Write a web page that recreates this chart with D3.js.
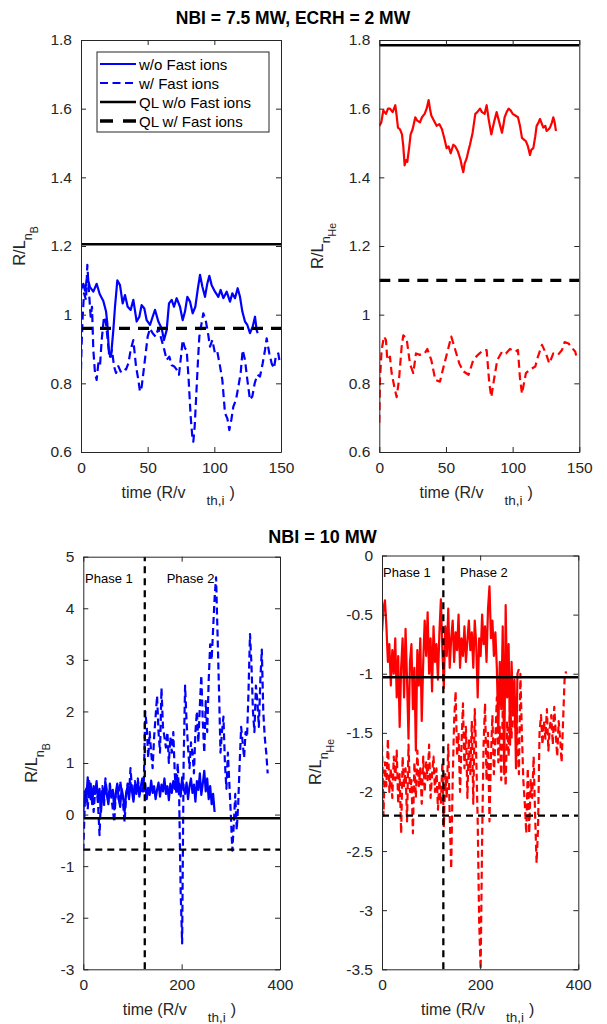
<!DOCTYPE html>
<html>
<head>
<meta charset="utf-8">
<script src="https://cdn.jsdelivr.net/npm/d3@7"></script>
<style>
  body { margin: 0; background: #fff; }
  svg { display: block; }
  text { font-family: 'Liberation Sans', Arial, Helvetica, sans-serif; }
</style>
</head>
<body>
<svg id="fig" width="607" height="1024"></svg>
<script>
// ---- data ----

// NBI = 7.5 MW, ECRH = 2 MW : [time, R/L]
const nB75NoFast = [[0,1.072],[1.75,1.09],[3,1.07],[4.75,1.11],[6.75,1.08],[9.25,1.067],[11.75,1.09],[14,1.06],
  [16.75,1.04],[18.75,1.01],[19.75,0.975],[21,0.887],[22.5,0.878],[24.25,0.955],[25.5,1.023],[27.25,1.10],
  [29.25,1.086],[31.25,1.033],[33,1.057],[35,1.023],[37.25,1.014],[39.25,1.043],[41.75,0.98],[43.75,0.994],
  [45.5,1.028],[47.5,1.018],[49.25,0.984],[51.75,0.97],[53.75,0.994],[55.5,1.014],[58,0.98],[60.5,0.96],
  [62.25,0.926],[64.25,0.955],[66,1.033],[68,1.043],[69.75,1.023],[71.75,1.048],[74.25,1.023],[76.25,0.984],
  [78,1.009],[79.75,1.052],[81.75,1.038],[83.75,1.004],[85.75,1.023],[87.5,1.072],[89.25,1.116],[91,1.082],
  [93,1.052],[94.75,1.091],[96.25,1.113],[98,1.086],[100.5,1.067],[103,1.052],[104.75,1.072],[106.75,1.048],
  [109.25,1.067],[111.75,1.038],[113.5,1.062],[115.5,1.048],[117.5,1.077],[119.25,1.052],[121,1.009],
  [123,0.98],[124.75,0.97],[126.75,0.946],[128.75,0.965],[130.5,0.994],[131.75,0.955],[132.5,0.946]]

const nB75Fast = [[0,0.84],[0.5,0.917],[1.25,0.994],[2.25,1.062],[3.75,1.043],[4.75,1.145],[5.75,1.08],
  [7.25,0.994],[8.25,1.023],[9.25,0.897],[10.5,0.83],[11.75,0.81],[13,0.858],[14.25,0.85],[15.5,0.926],
  [17.25,0.994],[18.75,0.975],[20.5,0.907],[21.75,0.878],[23.25,0.897],[24.75,0.85],[26.25,0.83],[28,0.85],
  [29.75,0.834],[31.75,0.844],[33.75,0.84],[35.5,0.858],[37.25,0.897],[39.25,0.926],[41.25,0.85],[43,0.81],
  [44.25,0.776],[45.5,0.79],[46.75,0.83],[48.5,0.887],[50,0.936],[51.75,0.96],[53.75,0.946],[56,0.936],
  [58,0.96],[60.5,0.926],[62.5,0.897],[64.25,0.868],[66.25,0.878],[68,0.853],[69.75,0.85],[71.75,0.84],
  [73.5,0.825],[75,0.878],[76.25,0.926],[78,0.902],[79.25,0.897],[80.75,0.81],[82.25,0.703],[83.5,0.645],
  [84.25,0.63],[85.25,0.674],[86.5,0.77],[87.75,0.868],[88.75,0.936],[90,0.965],[91.75,1.004],[93.5,0.984],
  [95.25,0.946],[96.75,0.907],[98.5,0.926],[100.5,0.887],[102.25,0.892],[104.25,0.85],[106,0.81],[108,0.713],
  [109.75,0.698],[111.25,0.664],[112.75,0.694],[114.25,0.732],[116.25,0.752],[118,0.79],[119.75,0.83],
  [121.25,0.897],[123,0.868],[124.75,0.81],[126.75,0.752],[128.5,0.762],[130.25,0.80],[132.25,0.825],
  [134.25,0.82],[136.25,0.858],[138,0.897],[139.25,0.931],[141.25,0.887],[143,0.858],[144.75,0.844],
  [146.25,0.882],[148,0.887],[148.75,0.868]]

const nHe75NoFast = [[0,1.55],[1.5,1.56],[3,1.595],[5,1.585],[6.5,1.60],[8,1.60],[10,1.59],[12,1.61],
  [13,1.58],[14,1.545],[15.5,1.54],[17,1.525],[18,1.49],[19,1.435],[20,1.45],[21,1.445],[22.5,1.49],
  [23.5,1.525],[25,1.54],[27,1.575],[28.5,1.565],[30.5,1.56],[32,1.575],[34,1.585],[35.5,1.60],[37,1.625],
  [38,1.60],[39,1.58],[41,1.565],[43,1.55],[45,1.555],[47,1.54],[49,1.51],[50.5,1.485],[52,1.49],
  [53.5,1.47],[55.5,1.495],[57,1.49],[59,1.475],[61,1.45],[62,1.43],[63,1.415],[64,1.44],[65.5,1.455],
  [67,1.48],[68,1.495],[70,1.53],[72,1.585],[73.5,1.59],[75.5,1.60],[77,1.59],[79,1.585],[80.5,1.61],
  [82,1.57],[84,1.525],[86,1.56],[88,1.59],[90,1.56],[92,1.53],[93,1.55],[94,1.575],[95.5,1.59],[97,1.60],
  [98.5,1.595],[100,1.585],[102,1.58],[104,1.575],[105.5,1.55],[107,1.515],[108.5,1.51],[110,1.505],
  [111.5,1.49],[113,1.465],[114,1.48],[115.5,1.485],[117,1.52],[118,1.55],[119.5,1.56],[120.5,1.57],
  [122,1.555],[123,1.545],[124.5,1.55],[125.5,1.535],[127,1.54],[128,1.545],[129.5,1.56],[130.5,1.575],
  [131.5,1.56],[132.5,1.535]]

const nHe75Fast = [[0,0.685],[0.5,0.81],[1.75,0.897],[3.5,0.936],[5,0.926],[6,0.868],[8,0.878],[9.25,0.83],
  [11.25,0.79],[13,0.76],[14.75,0.81],[16.75,0.906],[18,0.94],[20.5,0.93],[23,0.857],[25.5,0.83],
  [27.5,0.887],[30.5,0.883],[34,0.887],[36,0.90],[39,0.868],[42,0.81],[45.5,0.805],[48,0.845],[52,0.906],
  [54,0.936],[57,0.897],[60,0.858],[63,0.835],[67,0.825],[70.5,0.868],[74,0.883],[78,0.897],[80.5,0.897],
  [82.5,0.80],[84,0.76],[86,0.81],[88.5,0.868],[92,0.892],[95,0.887],[98,0.90],[102,0.892],[104,0.897],
  [105.5,0.815],[107,0.77],[110,0.83],[113,0.84],[117,0.849],[119,0.878],[122,0.912],[125,0.887],
  [127.5,0.858],[130.5,0.887],[134,0.883],[137,0.897],[139,0.92],[142,0.916],[144,0.906],[147,0.892],
  [148,0.873]]

// quasi-linear levels [w/o fast ions, w/ fast ions]
const qlNB75 = [1.205, 0.96]
const qlHe75 = [1.785, 1.10]

// NBI = 10 MW : sampled every dt10 (R/v_th,i) from t = 0
const dt10 = 3
const nB10NoFast = [
  0.05, 0.45, 0.30, 0.72, 0.35, 0.60, 0.20, 0.55, 0.40, 0.65,
  0.25, 0.50, 0.05, 0.45, 0.30, 0.62, 0.40, 0.20, 0.55, 0.35,
  0.48, 0.10, 0.42, 0.60, 0.30, 0.15, 0.50, 0.35, 0.05, 0.40,
  0.55, 0.30, 0.62, 0.45, 0.25, 0.58, 0.40, 0.65, 0.35, 0.55,
  0.70, 0.45, 0.60, 0.30, 0.52, 0.38, 0.66, 0.42, 0.55, 0.30,
  0.48, 0.62, 0.35, 0.58, 0.45, 0.70, 0.40, 0.55, 0.28, 0.60,
  0.42, 0.65, 0.50, 0.78, 0.45, 0.60, 0.35, 0.72, 0.50, 0.40,
  0.62, 0.30, 0.55, 0.70, 0.42, 0.58, 0.25, 0.65, 0.48, 0.80,
  0.38, 0.60, 0.85, 0.45, 0.70, 0.30, 0.55, 0.20, 0.40, 0.05]
const nB10Fast = [
  -0.70, 0.20, 0.55, 0.10, 0.65, 0.30, 0.50, 0.05, 0.45, 0.60,
  0.20, -0.40, 0.35, 0.55, 0.15, 0.70, 0.40, 0.25, 0.60, 0.35,
  0.10, -0.15, 0.40, 0.55, 0.30, 0.65, 0.45, 0.20, -0.15, 0.35,
  0.60, 0.40, 0.90, 0.50, 0.30, 0.65, 0.45, 0.70, 0.35, 0.55,
  0.45, 0.60, 2.00, 1.70, 1.10, 1.60, 1.20, 0.90, 1.50, 1.90,
  2.30, 1.60, 1.20, 2.45, 1.70, 1.50, 1.30, 1.60, 1.00, 1.50,
  1.20, 1.60, 0.80, 0.40, 1.00, 0.30, -1.50, -2.50, 1.00, 2.50,
  1.80, 1.30, 0.90, 1.40, 1.20, 0.80, 1.60, 2.00, 1.40, 2.10,
  2.70, 1.80, 1.20, 2.20, 1.60, 2.60, 3.30, 3.00, 3.60, 4.20,
  4.60, 3.50, 2.40, 1.20, 1.60, 1.90, 1.00, 0.50, 1.20, 0.60,
  0.00, -0.70, -0.20, 0.40, -0.30, 0.20, 1.00, 1.70, 1.40, 1.10,
  1.60, 1.50, 2.40, 3.50, 2.90, 2.00, 1.60, 2.50, 2.20, 1.70,
  2.60, 3.20, 2.00, 1.50, 1.20, 0.80]
const nHe10NoFast = [
  -0.65, -0.45, -0.38, -0.60, -0.90, -0.75, -1.10, -0.80, -1.00, -0.70,
  -1.20, -0.85, -1.45, -0.95, -0.70, -1.20, -0.62, -1.05, -1.55, -0.90,
  -0.75, -1.30, -0.95, -1.65, -0.80, -1.10, -0.70, -1.40, -0.90, -0.55,
  -0.85, -0.48, -1.00, -0.70, -1.15, -0.60, -0.90, -0.75, -1.05, -0.65,
  -0.37, -0.80, -1.12, -0.60, -0.85, -0.45, -0.95, -0.70, -0.55, -0.90,
  -0.65, -0.80, -0.50, -0.95, -0.70, -0.85, -0.60, -0.90, -0.72, -0.55,
  -0.80, -0.65, -0.95, -0.55, -0.75, -1.20, -0.70, -0.85, -0.50, -0.75,
  -0.60, -0.90, -0.45, -0.26, -0.70, -0.55, -0.85, -0.65, -0.95, -1.50,
  -0.90, -1.30, -0.60, -1.85, -0.42, -1.20, -0.75, -1.60, -0.90, -1.30,
  -1.05, -1.80, -1.00, -0.96]
const nHe10Fast = [
  -1.60, -2.20, -1.75, -1.95, -1.55, -2.00, -1.80, -2.05, -1.70, -1.90,
  -1.65, -2.10, -1.85, -2.35, -1.70, -1.95, -1.80, -2.25, -1.60, -2.00,
  -1.90, -2.35, -1.75, -2.05, -1.65, -1.95, -1.80, -2.10, -1.70, -2.00,
  -1.75, -1.90, -1.60, -2.05, -1.85, -1.70, -2.00, -1.80, -2.15, -1.90,
  -2.10, -1.75, -2.30, -1.85, -2.05, -1.60, -2.20, -2.65, -1.90, -1.40,
  -1.15, -1.70, -1.50, -2.00, -1.60, -1.25, -1.80, -1.45, -2.05, -1.55,
  -1.85, -1.40, -2.10, -1.30, -1.70, -2.25, -3.10, -3.50, -2.40, -1.60,
  -1.25, -1.90, -1.50, -2.25, -1.70, -1.35, -1.85, -1.55, -1.20, -1.75,
  -1.45, -1.90, -1.30, -1.65, -1.95, -1.40, -1.70, -1.25, -1.55, -1.10,
  -1.45, -1.20, -1.60, -1.85, -1.00, -1.50, -1.90, -2.10, -2.35, -1.80,
  -2.35, -1.90, -2.05, -1.70, -2.20, -2.60, -2.30, -1.50, -1.35, -1.60,
  -1.40, -1.55, -1.30, -1.65, -1.45, -1.35, -1.60, -1.28, -1.50, -1.70,
  -1.40, -1.55, -1.75, -1.40, -1.05, -0.98]
const qlNB10 = [-0.07, -0.68]
const qlHe10 = [-1.03, -2.2]
const phaseSplit = 125

const legendLabels = ['w/o Fast ions', 'w/ Fast ions', 'QL w/o Fast ions', 'QL w/ Fast ions']
const titles = ['NBI = 7.5 MW, ECRH = 2 MW', 'NBI = 10 MW']
const phaseLabels = ['Phase 1', 'Phase 2']

// ---- drawing ----
const svg = d3.select('#fig')
const axisColor = '#262626'
const blue = '#0000ff', red = '#ff0000'

function sampled(vals) {
  return vals.map((v, i) => [i * dt10, v])
}

function yLabel(x, yc, sub) {
  let t = svg.append('text')
    .attr('transform', `translate(${x},${yc}) rotate(-90)`)
    .attr('text-anchor', 'middle')
    .attr('fill', axisColor)
    .style('font-size', '16.5px')
  t.append('tspan').text('R/L')
  t.append('tspan').attr('dy', 7).style('font-size', '12.5px').text('n')
  t.append('tspan').attr('dy', 6).style('font-size', '10.5px').text(sub)
}

function xLabel(x, y) {
  let t = svg.append('text')
    .attr('x', x).attr('y', y)
    .attr('fill', axisColor)
    .style('font-size', '16px')
  t.append('tspan').text('time (R/v')
  t.append('tspan').attr('dx', 21).attr('dy', 7).style('font-size', '13.5px').text('th,i')
  t.append('tspan').attr('dx', 5).attr('dy', -7).text(')')
}

let clipCount = 0
function panel(o) {
  const x = d3.scaleLinear().domain(o.xDomain).range([o.left, o.right])
  const y = d3.scaleLinear().domain(o.yDomain).range([o.bottom, o.top])
  const id = 'clip' + (clipCount++)
  svg.append('clipPath').attr('id', id)
    .append('rect')
    .attr('x', o.left).attr('y', o.top)
    .attr('width', o.right - o.left).attr('height', o.bottom - o.top)

  const g = svg.append('g').attr('clip-path', `url(#${id})`)
  const line = d3.line().x(d => x(d[0])).y(d => y(d[1]))

  o.series.forEach(s => {
    g.append('path')
      .attr('d', line(s.data))
      .attr('fill', 'none')
      .attr('stroke', s.color)
      .attr('stroke-width', s.width)
      .attr('stroke-linejoin', 'round')
      .attr('stroke-dasharray', s.dash || null)
  })
  o.hlines.forEach(h => {
    g.append('path')
      .attr('d', line([[o.xDomain[0], h.value], [o.xDomain[1], h.value]]))
      .attr('stroke', '#000')
      .attr('stroke-width', h.width)
      .attr('stroke-dasharray', h.dash || null)
  })
  if (o.vline != null) {
    g.append('path')
      .attr('d', line([[o.vline, o.yDomain[0]], [o.vline, o.yDomain[1]]]))
      .attr('stroke', '#000')
      .attr('stroke-width', 2.3)
      .attr('stroke-dasharray', '7,5')
  }

  const fmt = d => String(+d.toFixed(2))
  const ax = svg.append('g')
  ax.append('g').attr('transform', `translate(0,${o.bottom})`)
    .call(d3.axisBottom(x).tickValues(o.xTicks).tickFormat(fmt).tickSizeInner(-5).tickSizeOuter(0).tickPadding(10))
  ax.append('g').attr('transform', `translate(0,${o.top})`)
    .call(d3.axisTop(x).tickValues(o.xTicks).tickFormat('').tickSizeInner(-5).tickSizeOuter(0))
  ax.append('g').attr('transform', `translate(${o.left},0)`)
    .call(d3.axisLeft(y).tickValues(o.yTicks).tickFormat(fmt).tickSizeInner(-5).tickSizeOuter(0).tickPadding(9))
  ax.append('g').attr('transform', `translate(${o.right},0)`)
    .call(d3.axisRight(y).tickValues(o.yTicks).tickFormat('').tickSizeInner(-5).tickSizeOuter(0))
  ax.selectAll('.domain').attr('stroke', axisColor)
  ax.selectAll('.tick line').attr('stroke', axisColor)
  ax.selectAll('.tick text').attr('fill', axisColor)
    .style('font-size', '15.5px')
    .style('font-family', "'Liberation Sans', Arial, Helvetica, sans-serif")

  if (o.phaseY != null) {
    phaseLabels.forEach((p, i) => {
      svg.append('text')
        .attr('x', o.phaseX[i]).attr('y', o.phaseY)
        .attr('fill', '#000')
        .style('font-size', '13px')
        .text(p)
    })
  }
  return { x, y }
}

// top row
const tDomain75 = [0, 150], ticks75 = [0, 50, 100, 150]
const yTicks75 = [0.6, 0.8, 1, 1.2, 1.4, 1.6, 1.8]
panel({
  left: 81, right: 281, top: 40, bottom: 452,
  xDomain: tDomain75, yDomain: [0.6, 1.8], xTicks: ticks75, yTicks: yTicks75,
  series: [
    { data: nB75NoFast, color: blue, width: 2.2 },
    { data: nB75Fast, color: blue, width: 2.2, dash: '8,4.5' }
  ],
  hlines: [{ value: qlNB75[0], width: 2.5 }, { value: qlNB75[1], width: 3.3, dash: '11,8' }]
})
panel({
  left: 379.3, right: 579.3, top: 40, bottom: 452,
  xDomain: tDomain75, yDomain: [0.6, 1.8], xTicks: ticks75, yTicks: yTicks75,
  series: [
    { data: nHe75NoFast, color: red, width: 2.2 },
    { data: nHe75Fast, color: red, width: 2.2, dash: '8,4.5' }
  ],
  hlines: [{ value: qlHe75[0], width: 2.5 }, { value: qlHe75[1], width: 3.3, dash: '11,8' }]
})

// bottom row
const tDomain10 = [0, 400], ticks10 = [0, 200, 400]
panel({
  left: 83.3, right: 280, top: 556.7, bottom: 969.3,
  xDomain: tDomain10, yDomain: [-3, 5], xTicks: ticks10, yTicks: d3.range(-3, 6, 1),
  series: [
    { data: sampled(nB10NoFast), color: blue, width: 2.2 },
    { data: sampled(nB10Fast), color: blue, width: 2.2, dash: '7,4' }
  ],
  hlines: [{ value: qlNB10[0], width: 2.4 }, { value: qlNB10[1], width: 2.3, dash: '7,5' }],
  vline: phaseSplit,
  phaseX: [85, 166.7], phaseY: 583
})
panel({
  left: 382, right: 578.3, top: 555.5, bottom: 969.3,
  xDomain: tDomain10, yDomain: [-3.5, 0], xTicks: ticks10, yTicks: d3.range(-3.5, 0.01, 0.5),
  series: [
    { data: sampled(nHe10NoFast), color: red, width: 2.2 },
    { data: sampled(nHe10Fast), color: red, width: 2.2, dash: '7,4' }
  ],
  hlines: [{ value: qlHe10[0], width: 2.4 }, { value: qlHe10[1], width: 2.3, dash: '7,5' }],
  vline: phaseSplit,
  phaseX: [383, 460], phaseY: 577
})

// legend (top-left panel)
const lg = svg.append('g')
lg.append('rect').attr('x', 97).attr('y', 52).attr('width', 172).attr('height', 80)
  .attr('fill', '#fff').attr('stroke', axisColor).attr('stroke-width', 1)
const legendStyle = [
  { color: blue, width: 2.2, dash: null },
  { color: blue, width: 2.2, dash: '8,4.5' },
  { color: '#000', width: 2.5, dash: null },
  { color: '#000', width: 3.3, dash: '13,10' }
]
legendLabels.forEach((lab, i) => {
  const cy = 64 + i * 19
  lg.append('line').attr('x1', 100).attr('x2', 136).attr('y1', cy).attr('y2', cy)
    .attr('stroke', legendStyle[i].color).attr('stroke-width', legendStyle[i].width)
    .attr('stroke-dasharray', legendStyle[i].dash)
  lg.append('text').attr('x', 139).attr('y', cy + 5.5)
    .attr('fill', '#000').style('font-size', '15px').text(lab)
})

// axis labels and titles
yLabel(25, 246, 'B')
yLabel(323, 246, 'He')
yLabel(37, 763, 'B')
yLabel(321, 762, 'He')
xLabel(121.5, 498)
xLabel(419.5, 498)
xLabel(122.7, 1015)
xLabel(421, 1015)

svg.append('text').attr('x', 293).attr('y', 24).attr('text-anchor', 'middle')
  .style('font-size', '17.5px').style('font-weight', 'bold').attr('fill', '#000').text(titles[0])
svg.append('text').attr('x', 322.5).attr('y', 542.5).attr('text-anchor', 'middle')
  .style('font-size', '18px').style('font-weight', 'bold').attr('fill', '#000').text(titles[1])
</script>
</body>
</html>
